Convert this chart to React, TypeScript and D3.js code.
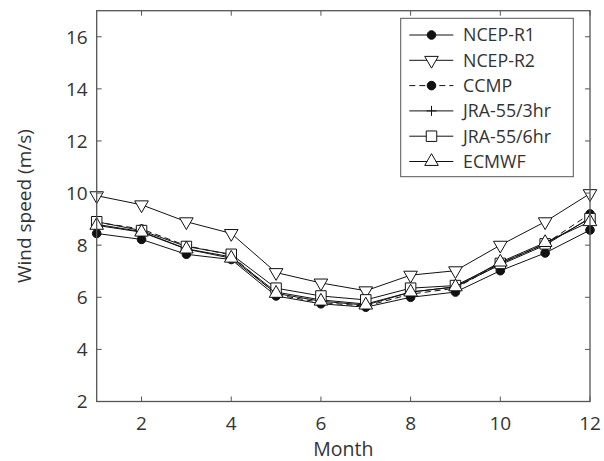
import React from "react";
import * as d3 from "d3";

const months = [1, 2, 3, 4, 5, 6, 7, 8, 9, 10, 11, 12];
const ncepR1 = [8.45, 8.22, 7.65, 7.45, 6.05, 5.75, 5.62, 6.0, 6.2, 7.02, 7.7, 8.58];
const ncepR2 = [9.9, 9.55, 8.9, 8.45, 6.95, 6.55, 6.25, 6.85, 7.02, 8.0, 8.9, 9.98];
const ccmp = [8.88, 8.62, 7.98, 7.62, 6.1, 5.8, 5.66, 6.12, 6.35, 7.3, 8.05, 9.2];
const jra3 = [8.8, 8.52, 7.86, 7.55, 6.2, 5.9, 5.74, 6.2, 6.4, 7.25, 8.0, 9.05];
const jra6 = [8.9, 8.56, 7.95, 7.65, 6.35, 6.05, 5.9, 6.35, 6.45, 7.3, 8.05, 9.02];
const ecmwf = [8.76, 8.5, 7.85, 7.5, 6.15, 5.85, 5.7, 6.2, 6.4, 7.35, 8.1, 8.9];
const seriesNames = ["NCEP-R1", "NCEP-R2", "CCMP", "JRA-55/3hr", "JRA-55/6hr", "ECMWF"];
const seriesValues = [ncepR1, ncepR2, ccmp, jra3, jra6, ecmwf];
const seriesMarkers = ["circle", "triDown", "circle", "plus", "square", "triUp"];
const seriesDashed = [false, false, true, false, false, false];
const xTicks = [2, 4, 6, 8, 10, 12];
const yTicks = [2, 4, 6, 8, 10, 12, 14, 16];

const FONT = "'Open Sans', 'Noto Sans', sans-serif";
const L = 96.7, R = 590, T = 10.7, B = 401.5;

function markerPath(kind: string): string {
  if (kind === "circle") return d3.symbol(d3.symbolCircle, 58)() as string;
  if (kind === "square") return d3.symbol(d3.symbolSquare, 110)() as string;
  if (kind === "triUp" || kind === "triDown") return d3.symbol(d3.symbolTriangle, 80)() as string;
  return "M-5,0H5M0,-5V5";
}

function Marker({ kind, x, y }: { kind: string; x: number; y: number }) {
  const d = markerPath(kind);
  const filled = kind === "circle";
  const rot = kind === "triDown" ? " rotate(180)" : "";
  return (
    <path
      d={d}
      transform={`translate(${x},${y})${rot}`}
      fill={filled ? "#111" : kind === "plus" ? "none" : "#fff"}
      stroke="#111"
      strokeWidth={1}
    />
  );
}

export default function App() {
  const x = d3.scaleLinear().domain([1, 12]).range([L, R]);
  const y = d3.scaleLinear().domain([2, 17]).range([B, T]);
  const line = d3
    .line<number>()
    .x((_, i) => x(months[i]))
    .y((v) => y(v));

  const axisColor = "#555";
  const tickLen = 5;

  const legX = 400.7, legY = 18.3, legW = 172.6, legH = 158.4;
  const rowY0 = 35, rowStep = 25.3;

  return (
    <svg width={604} height={461} style={{ position: "absolute", left: 0, top: 0 }}>
      <rect width={604} height={461} fill="#fff" />
      {seriesValues.map((vals, si) => (
        <g key={si}>
          <path
            d={line(vals) as string}
            fill="none"
            stroke="#111"
            strokeWidth={1}
            strokeDasharray={seriesDashed[si] ? "6,4" : undefined}
          />
          {vals.map((v, i) => (
            <Marker key={i} kind={seriesMarkers[si]} x={x(months[i])} y={y(v)} />
          ))}
        </g>
      ))}
      <rect x={L} y={T} width={R - L} height={B - T} fill="none" stroke={axisColor} strokeWidth={1.3} />
      {xTicks.map((t) => (
        <g key={"x" + t}>
          <line x1={x(t)} x2={x(t)} y1={B} y2={B - tickLen} stroke={axisColor} strokeWidth={1} />
          <line x1={x(t)} x2={x(t)} y1={T} y2={T + tickLen} stroke={axisColor} strokeWidth={1} />
          <text x={x(t)} y={B + 28} textAnchor="middle" fontFamily={FONT} fontSize={19} fill="#333">
            {t}
          </text>
        </g>
      ))}
      {yTicks.map((t) => (
        <g key={"y" + t}>
          <line x1={L} x2={L + tickLen} y1={y(t)} y2={y(t)} stroke={axisColor} strokeWidth={1} />
          <line x1={R} x2={R - tickLen} y1={y(t)} y2={y(t)} stroke={axisColor} strokeWidth={1} />
          <text x={L - 9} y={y(t)} dy="0.36em" textAnchor="end" fontFamily={FONT} fontSize={19} fill="#333">
            {t}
          </text>
        </g>
      ))}
      <text x={(L + R) / 2} y={456} textAnchor="middle" fontFamily={FONT} fontSize={19.5} fill="#333">
        Month
      </text>
      <text
        transform={`translate(24,${(T + B) / 2}) rotate(-90)`}
        textAnchor="middle"
        dy="0.35em"
        fontFamily={FONT}
        fontSize={19}
        fill="#333"
      >
        Wind speed (m/s)
      </text>
      <rect x={legX} y={legY} width={legW} height={legH} fill="#fff" stroke={axisColor} strokeWidth={1} />
      {seriesNames.map((name, i) => {
        const ry = rowY0 + i * rowStep;
        return (
          <g key={name}>
            <line
              x1={409.3}
              x2={453.3}
              y1={ry}
              y2={ry}
              stroke="#111"
              strokeWidth={1}
              strokeDasharray={seriesDashed[i] ? "6,4" : undefined}
            />
            <Marker kind={seriesMarkers[i]} x={431.5} y={ry} />
            <text x={463} y={ry} dy="0.36em" fontFamily={FONT} fontSize={17.8} fill="#333">
              {name}
            </text>
          </g>
        );
      })}
    </svg>
  );
}
